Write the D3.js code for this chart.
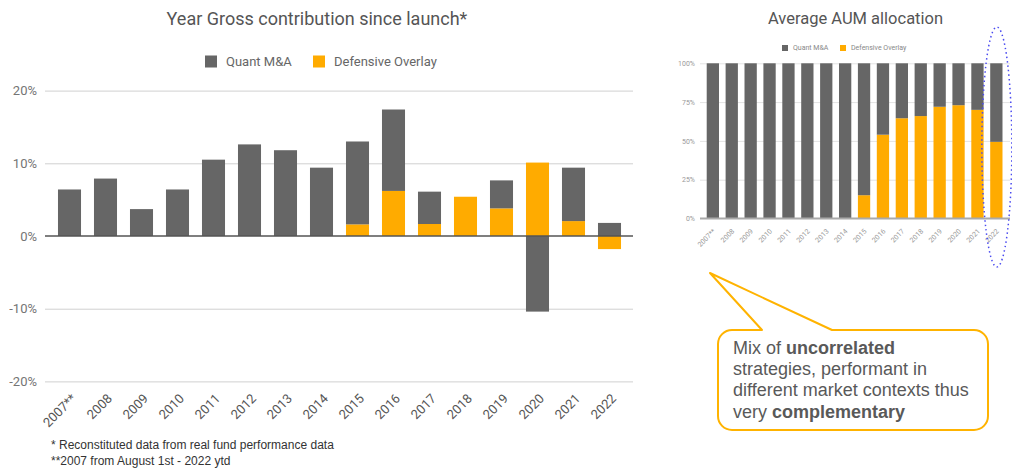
<!DOCTYPE html>
<html>
<head>
<meta charset="utf-8">
<script src="https://cdn.jsdelivr.net/npm/d3@7"></script>
<style>
  body { margin: 0; background: #fff; }
  svg { display: block; }
  text { font-family: Roboto, "Liberation Sans", sans-serif; }
</style>
</head>
<body>
<svg id="chart" width="1012" height="468"></svg>
<script>

// categories
const years = ["2007**", "2008", "2009", "2010", "2011", "2012", "2013", "2014",
               "2015", "2016", "2017", "2018", "2019", "2020", "2021", "2022"];

// left chart : yearly gross contribution (%)
const quantContrib     = [6.4, 7.9, 3.7, 6.4, 10.5, 12.6, 11.8, 9.4, 11.4, 11.2, 4.45, 0, 3.85, -10.4, 7.35, 1.8];
const defensiveContrib = [0, 0, 0, 0, 0, 0, 0, 0, 1.6, 6.2, 1.65, 5.4, 3.8, 10.1, 2.05, -1.8];

// right chart : average AUM allocation (%)
const quantAlloc     = [100, 100, 100, 100, 100, 100, 100, 100, 85, 46, 35.4, 34, 28, 27, 30, 50.6];
const defensiveAlloc = [0, 0, 0, 0, 0, 0, 0, 0, 15, 54, 64.6, 66, 72, 73, 70, 49.4];

const series = ["Quant M&A", "Defensive Overlay"];
const leftTicks = [-20, -10, 0, 10, 20];
const rightTicks = [0, 25, 50, 75, 100];

const footnotes = ["* Reconstituted data from real fund performance data",
                   "**2007 from August 1st - 2022 ytd"];

const colors = { quant: "#666666", defensive: "#FFAB00" };

const svg = d3.select("#chart");
svg.append("rect").attr("width", 1012).attr("height", 468).attr("fill", "#fff");

/**
 * Stacked bar chart, defensive at the bottom, quant on top
 */
function stackedBars(g, cfg){

  const rows = years.map((y, i) => ({ year: y, quant: cfg.quant[i], defensive: cfg.defensive[i] }));

  const stack = d3.stack()
    .keys(["defensive", "quant"])
    .offset(d3.stackOffsetDiverging);

  const x = d3.scaleBand()
    .domain(years)
    .range(cfg.xRange)
    .paddingInner(cfg.pad)
    .paddingOuter(cfg.pad / 2);

  const y = d3.scaleLinear().domain(cfg.yDomain).range(cfg.yRange);

  // gridlines + tick labels
  const axis = g.append("g")
    .attr("class", "y axis")
    .attr("transform", "translate(" + cfg.gridX[0] + ",0)")
    .call(d3.axisLeft(y)
      .tickValues(cfg.ticks)
      .tickSize(-(cfg.gridX[1] - cfg.gridX[0]))
      .tickPadding(cfg.tickPad)
      .tickFormat(d => d + "%"));

  axis.select(".domain").remove();
  axis.selectAll("line").attr("stroke", d => d == 0 ? "none" : cfg.gridColor);
  axis.selectAll("text")
    .attr("fill", cfg.labelColor)
    .style("font-size", cfg.fontSize + "px");

  g.append("g").selectAll("g")
    .data(stack(rows))
    .join("g")
      .attr("fill", d => colors[d.key])
    .selectAll("rect")
    .data(d => d)
    .join("rect")
      .attr("x", d => x(d.data.year))
      .attr("width", x.bandwidth())
      .attr("y", d => y(Math.max(d[0], d[1])))
      .attr("height", d => Math.abs(y(d[0]) - y(d[1])));

  // baseline
  g.append("line")
    .attr("x1", cfg.gridX[0]).attr("x2", cfg.gridX[1])
    .attr("y1", y(0)).attr("y2", y(0))
    .attr("stroke", cfg.zeroColor)
    .attr("stroke-width", cfg.zeroWidth);

  // rotated category labels
  const xa = g.append("g")
    .attr("class", "x axis")
    .attr("transform", "translate(0," + y(cfg.yDomain[0]) + ")")
    .call(d3.axisBottom(x).tickSize(0));

  xa.select(".domain").remove();
  xa.selectAll("text")
    .attr("y", 0).attr("dy", 0)
    .attr("text-anchor", "end")
    .attr("transform", "translate(" + cfg.labelOff[0] + "," + cfg.labelOff[1] + ") rotate(-45)")
    .attr("fill", cfg.catColor)
    .style("font-size", cfg.catSize + "px");

  return { x, y };
}

function legend(g, items, cfg){
  items.forEach((name, i) => {
    const it = g.append("g").attr("transform", "translate(" + cfg.xs[i] + "," + cfg.y + ")");
    it.append("rect")
      .attr("y", -cfg.box / 2)
      .attr("width", cfg.box).attr("height", cfg.box)
      .attr("fill", i == 0 ? colors.quant : colors.defensive);
    it.append("text")
      .attr("x", cfg.box + cfg.gap)
      .attr("dy", "0.35em")
      .attr("fill", cfg.color)
      .style("font-size", cfg.size + "px")
      .text(name);
  });
}

// ---------- left chart ----------
const left = svg.append("g");

left.append("text")
  .attr("x", 317).attr("y", 25)
  .attr("text-anchor", "middle")
  .attr("fill", "#555")
  .style("font-size", "18px")
  .text("Year Gross contribution since launch*");

legend(left, series, { xs: [205, 313], y: 61.5, box: 12, gap: 9, size: 13, color: "#666" });

stackedBars(left, {
  quant: quantContrib, defensive: defensiveContrib,
  xRange: [51.5, 627.5], pad: 0.36,
  yDomain: [-20, 20], yRange: [381.4, 90.6],
  gridX: [45, 633], ticks: leftTicks, tickPad: 8,
  gridColor: "#d0d0d0", labelColor: "#757575", fontSize: 13,
  zeroColor: "#555", zeroWidth: 1.5,
  labelOff: [7.5, 18], catColor: "#555", catSize: 13
});

left.selectAll(".footnote")
  .data(footnotes)
  .join("text")
    .attr("class", "footnote")
    .attr("x", 51)
    .attr("y", (d, i) => 449 + i * 15.5)
    .attr("fill", "#333")
    .style("font-family", "'Liberation Sans', Arial, sans-serif")
    .style("font-size", "12px")
    .text(d => d);

// ---------- right chart ----------
const right = svg.append("g");

right.append("text")
  .attr("x", 855.5).attr("y", 24)
  .attr("text-anchor", "middle")
  .attr("fill", "#555")
  .style("font-size", "16.5px")
  .text("Average AUM allocation");

legend(right, series, { xs: [782, 840], y: 48, box: 6, gap: 5, size: 7, color: "#888" });

const r = stackedBars(right, {
  quant: quantAlloc, defensive: defensiveAlloc,
  xRange: [703.4, 1005.8], pad: 0.35,
  yDomain: [0, 100], yRange: [218.5, 63.3],
  gridX: [700, 1010], ticks: rightTicks, tickPad: 5,
  gridColor: "#e3e3e3", labelColor: "#999", fontSize: 7,
  zeroColor: "#aaa", zeroWidth: 2,
  labelOff: [3, 13.3], catColor: "#999", catSize: 7
});

// dotted highlight round the last year
const cx2022 = r.x("2022") + r.x.bandwidth() / 2;
right.append("ellipse")
  .attr("cx", cx2022 + 0.5).attr("cy", 147)
  .attr("rx", 15).attr("ry", 120)
  .attr("fill", "none")
  .attr("stroke", "#4a4af0")
  .attr("stroke-width", 1.5)
  .attr("stroke-dasharray", "1.5 3");

// ---------- callout ----------
const callout = svg.append("g");

callout.append("path")
  .attr("d", "M732,330 L762,330 L710,273 L832,330 L974,330 A14,14 0 0 1 988,344 L988,416 A14,14 0 0 1 974,430 " +
             "L732,430 A14,14 0 0 1 718,416 L718,344 A14,14 0 0 1 732,330 Z")
  .attr("fill", "#fff")
  .attr("stroke", "#FFB300")
  .attr("stroke-width", 2)
  .attr("stroke-linejoin", "round");

const lines = [
  [["Mix of ", false], ["uncorrelated", true]],
  [["strategies, performant in", false]],
  [["different market contexts thus", false]],
  [["very ", false], ["complementary", true]]
];

const ct = callout.append("text")
  .attr("fill", "#595959")
  .style("font-family", "'Liberation Sans', Arial, sans-serif")
  .style("font-size", "18px");

lines.forEach((ln, i) => {
  ln.forEach((part, j) => {
    const ts = ct.append("tspan").text(part[0]);
    if(j == 0) ts.attr("x", 733).attr("y", 354 + i * 21.2);
    if(part[1]) ts.style("font-weight", "bold");
  });
});

</script>
</body>
</html>
